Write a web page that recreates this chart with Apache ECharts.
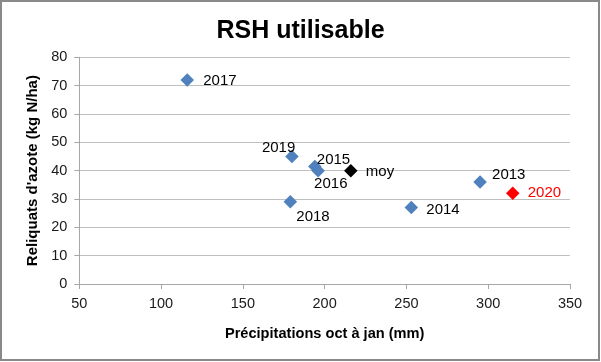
<!DOCTYPE html>
<html>
<head>
<meta charset="utf-8">
<script src="https://cdn.jsdelivr.net/npm/echarts@6/dist/echarts.min.js"></script>
<style>
html,body{margin:0;padding:0;background:#fff;}
#chart{width:601px;height:362px;}
</style>
</head>
<body>
<div id="chart"></div>
<script>
// Data
var years = ['2017', '2019', '2015', '2016', 'moy', '2013', '2020', '2018', '2014'];
var precipitations = [116, 180, 194, 196, 216, 295, 315, 179, 253];
var reliquats = [72, 45, 41.5, 40, 40, 36, 32, 29, 27];
var xTicks = [50, 100, 150, 200, 250, 300, 350];
var yTicks = [0, 10, 20, 30, 40, 50, 60, 70, 80];

// Styling (not data): label left-edge gap and vertical shift relative to marker centre
var pointColors = {'moy': '#000000', '2020': '#ff0000'};
var labelColors = {'2020': '#ff0000'};
var labelShift = {
  '2017': [16, 1], '2019': [-30, -9], '2015': [2, -7], '2016': [-4, 13],
  'moy': [15, 1], '2013': [12, -7], '2020': [15, 0], '2018': [6, 15], '2014': [15, 2]
};
var SYM = 13.5;

var FONT = 'Liberation Sans';
var chart = echarts.init(document.getElementById('chart'), null, {renderer: 'canvas'});

var seriesData = years.map(function (y, i) {
  var s = labelShift[y];
  return {
    value: [precipitations[i], reliquats[i]],
    name: y,
    itemStyle: {color: pointColors[y] || '#4f81bd', opacity: 1},
    label: {
      show: true,
      position: [s[0] + SYM / 2, s[1] + SYM / 2],
      align: 'left',
      verticalAlign: 'middle',
      formatter: y,
      color: labelColors[y] || '#000000',
      fontFamily: FONT,
      fontSize: 15
    }
  };
});

chart.setOption({
  animation: false,
  backgroundColor: '#ffffff',
  title: {
    text: 'RSH utilisable',
    left: 'center',
    top: 19,
    padding: 0,
    textStyle: {fontFamily: FONT, fontWeight: 'bold', fontSize: 25, color: '#000000'}
  },
  graphic: [{
    type: 'rect',
    shape: {x: 1, y: 1, width: 598, height: 359},
    style: {fill: 'none', stroke: '#898989', lineWidth: 2},
    silent: true
  }],
  grid: {left: 79.3, right: 31, top: 57.3, bottom: 78, containLabel: false},
  xAxis: {
    type: 'value',
    min: xTicks[0], max: xTicks[xTicks.length - 1], interval: 50,
    name: 'Précipitations oct à jan (mm)',
    nameLocation: 'middle',
    nameGap: 42,
    nameTextStyle: {fontFamily: FONT, fontWeight: 'bold', fontSize: 14.6, color: '#000000'},
    axisLine: {show: true, lineStyle: {color: '#a6a6a6', width: 1}},
    axisTick: {show: true, length: 5, lineStyle: {color: '#a6a6a6'}},
    axisLabel: {fontFamily: FONT, fontSize: 14.5, color: '#1a1a1a', margin: 12},
    splitLine: {show: false}
  },
  yAxis: {
    type: 'value',
    min: yTicks[0], max: yTicks[yTicks.length - 1], interval: 10,
    name: "Reliquats d'azote (kg N/ha)",
    nameLocation: 'middle',
    nameGap: 39,
    nameRotate: 90,
    nameTextStyle: {fontFamily: FONT, fontWeight: 'bold', fontSize: 15, color: '#000000'},
    axisLine: {show: true, lineStyle: {color: '#a6a6a6', width: 1}},
    axisTick: {show: true, length: 5, lineStyle: {color: '#a6a6a6'}},
    axisLabel: {fontFamily: FONT, fontSize: 14.5, color: '#1a1a1a', margin: 12},
    splitLine: {show: true, lineStyle: {color: '#bfbfbf', width: 1}}
  },
  series: [{
    type: 'scatter',
    symbol: 'diamond',
    symbolSize: [SYM, SYM],
    data: seriesData,
    labelLayout: {hideOverlap: false}
  }]
});
</script>
</body>
</html>
